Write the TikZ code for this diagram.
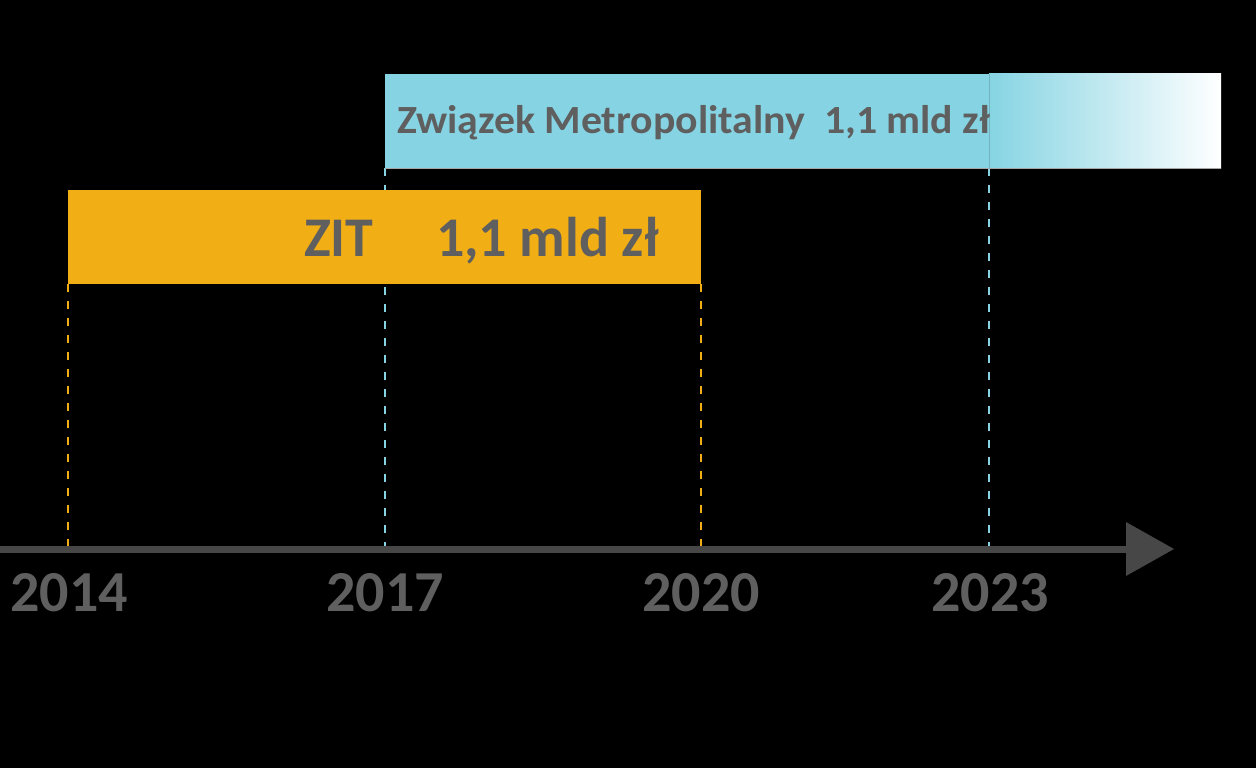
\documentclass[tikz,border=0pt]{standalone}
\usepackage{fontspec}
\setmainfont{Carlito}
\definecolor{zmcyan}{HTML}{86D4E3}
\definecolor{zitorange}{HTML}{F2AE15}
\definecolor{txtgray}{HTML}{5F5F5F}
\definecolor{axisgray}{HTML}{474747}
\begin{document}
\begin{tikzpicture}[x=1pt,y=-1pt,
  boxbase/.style={inner sep=0pt, outer sep=0pt, anchor=north west},
  guide/.style={line width=2.5pt, dash pattern=on 8pt off 9pt},
  lbl/.style={inner sep=0pt, outer sep=0pt, text=txtgray, font=\bfseries},
  yearlbl/.style={lbl, anchor=base, font=\bfseries\fontsize{58}{60}\selectfont}]
\fill[black] (0,0) rectangle (1256,768);
\useasboundingbox (0,0) rectangle (1256,768);
% axis coordinates
\coordinate (a14) at (68,546);
\coordinate (a17) at (385,546);
\coordinate (a20) at (701,546);
\coordinate (a23) at (989,546);
\coordinate (axstart) at (0,549);
\coordinate (axend) at (1130,549);
% boxes
\node[boxbase, fill=zmcyan, minimum width=604pt, minimum height=94pt] (zm) at (385,74) {};
\node[boxbase, left color=zmcyan, right color=white, minimum width=232pt, minimum height=94pt] (zmfade) at (989,74) {};
% guides (behind orange box)
\draw[guide, zmcyan] (zm.south west) -- (a17);
\draw[guide, zmcyan] (zm.south east) -- (a23);
\node[boxbase, fill=zitorange, minimum width=633pt, minimum height=94pt] (zit) at (68,190) {};
\draw[guide, zitorange] (zit.south west) -- (a14);
\draw[guide, zitorange] (zit.south east) -- (a20);
\draw[line width=1pt, zmcyan!85!black] (zm.north east) -- (zm.south east);
\draw[line width=1pt, gray!70] (zm.south west) -- (zmfade.south east);
% axis
\draw[axisgray, line width=7pt] (axstart) -- (axend);
\fill[axisgray] (1126,522) -- (1174,549) -- (1126,576) -- cycle;
% labels
\node[lbl, anchor=base west, xscale=1.045, font=\bfseries\fontsize{40}{48}\selectfont] (zmtxt) at (397,133) {Związek Metropolitalny\ \ 1,1 mld zł};
\node[lbl, anchor=base west, font=\bfseries\fontsize{56}{60}\selectfont] (zittxt) at (304,256) {ZIT};
\node[lbl, anchor=base west, font=\bfseries\fontsize{56}{60}\selectfont] (zitval) at (436,256) {1,1 mld zł};
\node[yearlbl] (y14) at (69,611) {2014};
\node[yearlbl] (y17) at (385,611) {2017};
\node[yearlbl] (y20) at (701,611) {2020};
\node[yearlbl] (y23) at (990,611) {2023};
\end{tikzpicture}
\end{document}
